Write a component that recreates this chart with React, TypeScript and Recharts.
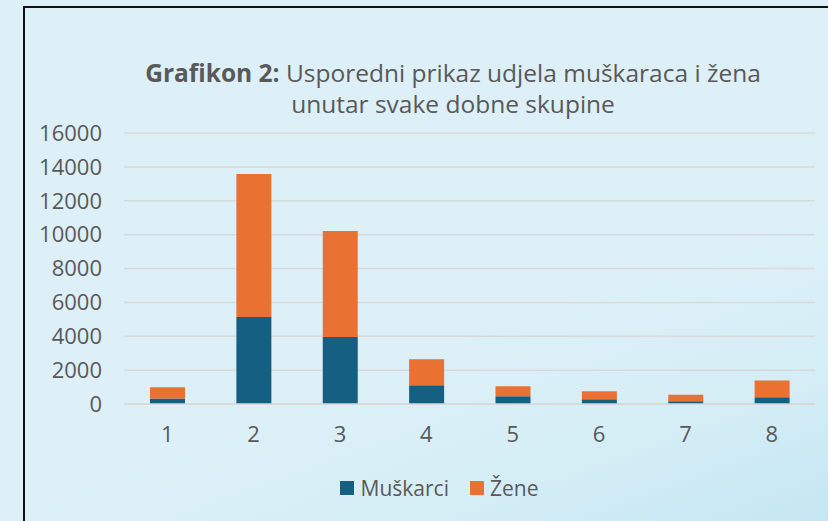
import React from "react";
import { BarChart, Bar, XAxis, YAxis, CartesianGrid, Legend } from "recharts";

const categories = ["1", "2", "3", "4", "5", "6", "7", "8"];
const muskarci = [320, 5140, 3960, 1100, 460, 285, 165, 400];
const zene = [665, 8440, 6250, 1540, 590, 470, 375, 990];
const yTicks = [0, 2000, 4000, 6000, 8000, 10000, 12000, 14000, 16000];

const data = categories.map((c, i) => ({ name: c, Muškarci: muskarci[i], Žene: zene[i] }));

const FONT = "'Open Sans', sans-serif";
const TEXT = "#595959";
const BLUE = "#156082";
const ORANGE = "#E97132";

const LegendContent = () => (
  <div style={{ display: "flex", justifyContent: "center", alignItems: "center", fontFamily: FONT, fontSize: 21, color: TEXT, paddingLeft: 50 }}>
    <span style={{ display: "inline-block", width: 14, height: 14, background: BLUE, marginRight: 7 }} />
    <span style={{ marginRight: 21 }}>Muškarci</span>
    <span style={{ display: "inline-block", width: 14, height: 14, background: ORANGE, marginRight: 6 }} />
    <span>Žene</span>
  </div>
);

export default function App() {
  return (
    <div
      style={{
        position: "fixed",
        left: 0,
        top: 0,
        width: 828,
        height: 521,
        overflow: "hidden",
        background: "linear-gradient(160deg, #DDF0F7 0%, #DDF0F7 60%, #D6EEF6 80%, #C4E6F2 100%)",
      }}
    >
      <div
        style={{
          position: "absolute",
          left: 23,
          top: 6,
          width: 900,
          height: 600,
          borderLeft: "2px solid #111",
          borderTop: "2px solid #111",
        }}
      />
      <div
        style={{
          position: "absolute",
          left: 53,
          width: 800,
          top: 57,
          textAlign: "center",
          fontFamily: FONT,
          fontSize: 24.5,
          lineHeight: "31px",
          color: TEXT,
        }}
      >
        <div>
          <b>Grafikon 2:</b> Usporedni prikaz udjela muškaraca i žena
        </div>
        <div>unutar svake dobne skupine</div>
      </div>
      <div style={{ position: "absolute", left: 0, top: 0 }}>
        <BarChart
          width={828}
          height={521}
          data={data}
          margin={{ top: 133, right: 13, bottom: 32, left: 24 }}
          barSize={35}
        >
          <CartesianGrid vertical={false} stroke="#D9D9D9" strokeWidth={1.5} />
          <XAxis
            dataKey="name"
            axisLine={{ stroke: "#D9D9D9", strokeWidth: 1.5 }}
            tickLine={false}
            tickSize={0}
            tickMargin={22}
            height={57}
            tick={{ fill: TEXT, fontFamily: FONT, fontSize: 22 }}
          />
          <YAxis
            domain={[0, 16000]}
            ticks={yTicks}
            axisLine={false}
            tickLine={false}
            tickSize={0}
            tickMargin={22}
            width={100}
            interval={0}
            tick={{ fill: TEXT, fontFamily: FONT, fontSize: 22 }}
          />
          <Legend
            verticalAlign="bottom"
            content={<LegendContent />}
            wrapperStyle={{ position: "absolute", top: 474, left: 0, width: 828 }}
          />
          <Bar dataKey="Muškarci" stackId="a" fill={BLUE} isAnimationActive={false} />
          <Bar dataKey="Žene" stackId="a" fill={ORANGE} isAnimationActive={false} />
        </BarChart>
      </div>
    </div>
  );
}
